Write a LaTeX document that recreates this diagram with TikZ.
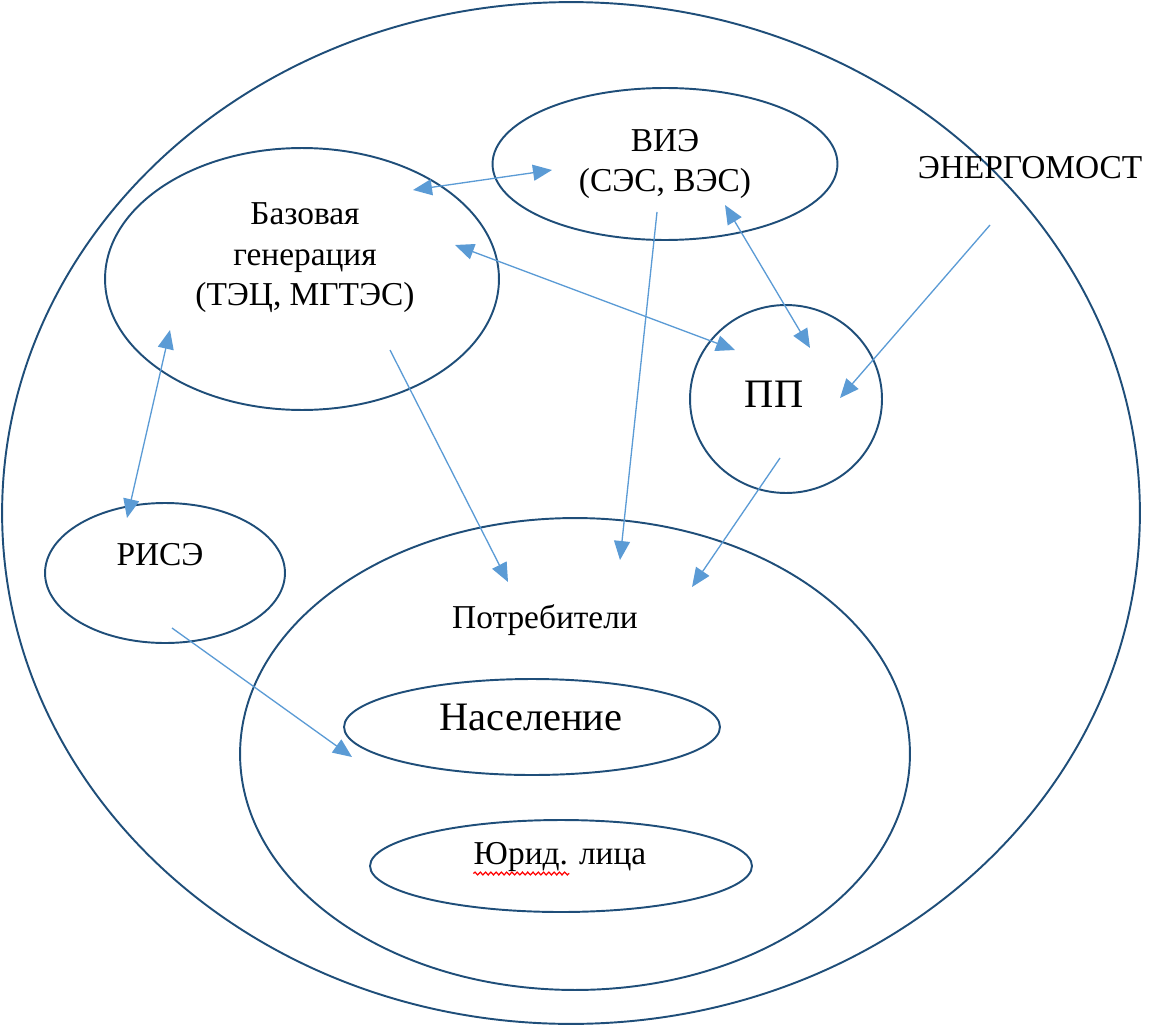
\documentclass[tikz,border=0pt]{standalone}
\usepackage{fontspec}
\setmainfont{Liberation Serif}
\usetikzlibrary{shapes.geometric,arrows.meta,calc,decorations.pathmorphing}

\tikzset{
  oval/.style={draw=ovalblue, line width=1.1pt, ellipse, inner sep=0pt},
  txt/.style={font=\fontsize{19pt}{23pt}\selectfont, align=center, inner sep=0pt},
  bigtxt/.style={font=\fontsize{23pt}{27pt}\selectfont, inner sep=0pt},
  tip/.tip={Triangle[length=0.38cm, width=0.32cm]},
  link/.style={draw=linkblue, line width=0.75pt, -tip},
  dlink/.style={link, tip-tip}
}
\definecolor{ovalblue}{HTML}{1F4E79}
\definecolor{linkblue}{HTML}{5B9BD5}

\begin{document}
\begin{tikzpicture}[x=0.02cm, y=-0.02cm]
  \useasboundingbox (0,0) rectangle (1151,1027);

  \node[oval, minimum width=22.76cm, minimum height=20.44cm] (all) at (571,513) {};

  \node[oval, minimum width=7.88cm, minimum height=5.24cm] (baz) at (302,279) {};
  \node[txt] at (305,258) {Базовая\\генерация\\(ТЭЦ, МГТЭС)};

  \node[oval, minimum width=6.9cm, minimum height=3.04cm, txt] (vie) at (665,164) {ВИЭ\\(СЭС, ВЭС)};

  \node[oval, minimum width=3.84cm, minimum height=3.76cm] (pp) at (786,399) {};
  \node[bigtxt] at (774,394) {ПП};

  \node[oval, minimum width=4.8cm, minimum height=2.8cm] (rise) at (165,573) {};
  \node[txt] at (160,555) {РИСЭ};

  \node[oval, minimum width=13.4cm, minimum height=9.44cm] (potr) at (575,754) {};
  \node[txt] at (545,620) {Потребители};

  \node[oval, minimum width=7.52cm, minimum height=1.92cm] (nasel) at (532,727) {};
  \node[bigtxt] at (531,717) {Население};

  \node[oval, minimum width=7.64cm, minimum height=1.84cm] (yur) at (561,866) {};
  \node[txt] (yurtxt) at (560,857) {Юрид. лица};
  \draw[red, line width=0.7pt, decorate, decoration={snake, amplitude=0.8pt, segment length=3pt}]
    ($(yurtxt.base west)+(0,9)$) -- ($(yurtxt.base west)+(96,9)$);

  \node[txt] (most) at (1030,168) {ЭНЕРГОМОСТ};

  \draw[dlink] ($(baz)+(111,-89)$) -- ($(vie)+(-113,6)$);
  \draw[dlink] ($(baz)+(153,-34)$) -- ($(pp)+(-51,-49)$);
  \draw[dlink] ($(vie)+(60,41)$) -- ($(pp)+(24,-51)$);
  \draw[dlink] ($(baz)+(-132,51)$) -- ($(rise)+(-38,-55)$);
  \draw[link] ($(most)+(-40,57)$) -- ($(pp)+(54,-1)$);
  \draw[link] ($(baz)+(88,71)$) -- ($(potr)+(-67,-172)$);
  \draw[link] ($(vie)+(-8,48)$) -- ($(potr)+(45,-194)$);
  \draw[link] ($(pp)+(-6,59)$) -- ($(potr)+(117,-167)$);
  \draw[link] ($(rise)+(7,55)$) -- ($(nasel)+(-180,30)$);
\end{tikzpicture}
\end{document}
